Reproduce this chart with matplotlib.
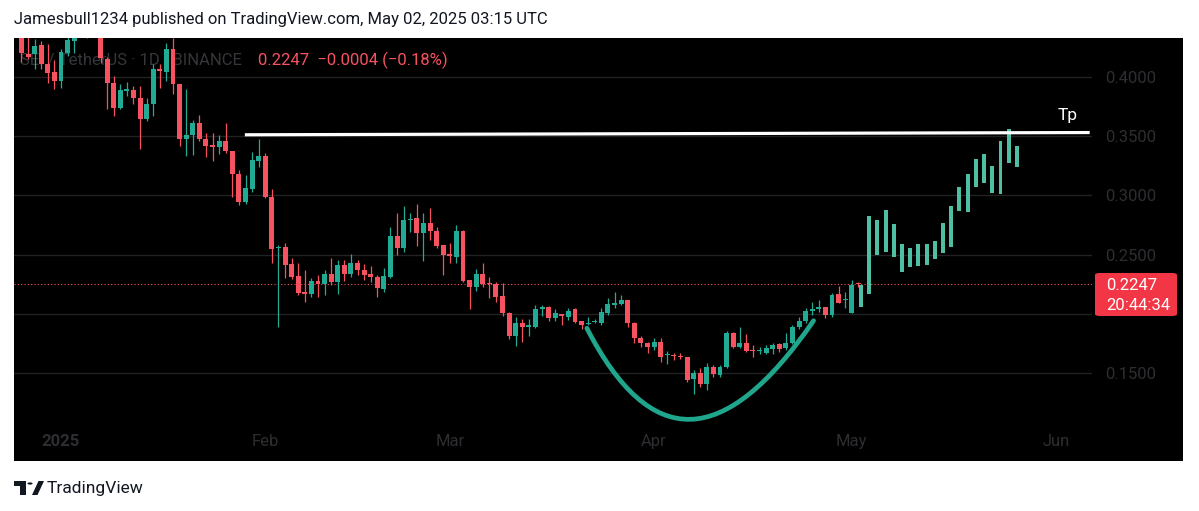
import numpy as np
import pandas as pd
import matplotlib
matplotlib.use("Agg")
import matplotlib.pyplot as plt
import matplotlib.dates as mdates
from matplotlib.path import Path
from matplotlib.patches import PathPatch, FancyBboxPatch, Rectangle, Circle, Polygon
from matplotlib.transforms import blended_transform_factory

plt.rcParams['font.family'] = ['Roboto', 'DejaVu Sans']

W, H = 1199, 511
TEAL = "#22ab94"
RED = "#f7525f"
PROJ = "#4fbfa3"
DIM = "#2e2e32"

# daily candles, starting 2024-12-26
first_day = "2024-12-26"
opens = [0.4450, 0.4192, 0.4192, 0.4268, 0.4107, 0.4042, 0.3966, 0.4205, 0.4304, 0.4480,
         0.4690, 0.4520, 0.4500, 0.4150, 0.3952, 0.3741, 0.3885, 0.3890, 0.3825, 0.3643,
         0.3769, 0.4065, 0.4042, 0.4239, 0.3938, 0.3479, 0.3510, 0.3609, 0.3474, 0.3425,
         0.3406, 0.3457, 0.3377, 0.3180, 0.2946, 0.3051, 0.3293, 0.3332, 0.2989, 0.2552,
         0.2566, 0.2420, 0.2318, 0.2186, 0.2166, 0.2279, 0.2251, 0.2335, 0.2270, 0.2411,
         0.2335, 0.2426, 0.2369, 0.2333, 0.2313, 0.2206, 0.2313, 0.2656, 0.2553, 0.2795,
         0.2806, 0.2679, 0.2764, 0.2701, 0.2580, 0.2504, 0.2482, 0.2701, 0.2285, 0.2228,
         0.2335, 0.2254, 0.2251, 0.2149, 0.2008, 0.1811, 0.1919, 0.1890, 0.1885, 0.2037,
         0.2059, 0.1961, 0.1997, 0.1970, 0.2037, 0.1941, 0.1913, 0.1932, 0.1924, 0.2008,
         0.2073, 0.2082, 0.2116, 0.1924, 0.1792, 0.1755, 0.1716, 0.1763, 0.1652, 0.1654,
         0.1644, 0.1631, 0.1445, 0.1496, 0.1406, 0.1552, 0.1483, 0.1547, 0.1834, 0.1721,
         0.1755, 0.1690, 0.1684, 0.1670, 0.1699, 0.1744, 0.1707, 0.1755, 0.1890, 0.1941,
         0.2025, 0.2037, 0.2054, 0.1989, 0.2164, 0.2116, 0.2003, 0.2251]
highs = [0.4560, 0.4380, 0.4319, 0.4304, 0.4276, 0.4144, 0.4234, 0.4370, 0.4550, 0.4760,
         0.4820, 0.4650, 0.4600, 0.4170, 0.4008, 0.3938, 0.3958, 0.3924, 0.3924, 0.3825,
         0.4107, 0.4107, 0.4290, 0.4332, 0.3945, 0.3896, 0.3637, 0.3679, 0.3524, 0.3524,
         0.3510, 0.3609, 0.3377, 0.3214, 0.3172, 0.3364, 0.3474, 0.3360, 0.3051, 0.2580,
         0.2594, 0.2468, 0.2426, 0.2369, 0.2299, 0.2327, 0.2369, 0.2468, 0.2454, 0.2454,
         0.2502, 0.2454, 0.2420, 0.2406, 0.2327, 0.2383, 0.2730, 0.2853, 0.2910, 0.2848,
         0.2927, 0.2848, 0.2890, 0.2735, 0.2580, 0.2595, 0.2749, 0.2707, 0.2285, 0.2375,
         0.2431, 0.2307, 0.2270, 0.2257, 0.2017, 0.1975, 0.1953, 0.1953, 0.2073, 0.2073,
         0.2065, 0.2037, 0.1997, 0.2045, 0.2045, 0.1941, 0.1970, 0.1953, 0.2045, 0.2130,
         0.2186, 0.2158, 0.2116, 0.1932, 0.1811, 0.1763, 0.1792, 0.1792, 0.1687, 0.1670,
         0.1665, 0.1637, 0.1524, 0.1539, 0.1586, 0.1566, 0.1566, 0.1856, 0.1848, 0.1885,
         0.1828, 0.1735, 0.1721, 0.1735, 0.1750, 0.1755, 0.1834, 0.1904, 0.1975, 0.2045,
         0.2101, 0.2116, 0.2059, 0.2172, 0.2234, 0.2186, 0.2285, 0.2270]
lows = [0.4127, 0.4150, 0.4070, 0.4068, 0.3952, 0.3901, 0.3910, 0.4180, 0.4205, 0.4420,
        0.4330, 0.4380, 0.4120, 0.3727, 0.3670, 0.3727, 0.3839, 0.3769, 0.3389, 0.3628,
        0.3670, 0.3910, 0.3966, 0.3854, 0.3417, 0.3332, 0.3341, 0.3460, 0.3321, 0.3293,
        0.3349, 0.3360, 0.2983, 0.2918, 0.2927, 0.3031, 0.3242, 0.2975, 0.2431, 0.1885,
        0.2299, 0.2291, 0.2158, 0.2101, 0.2144, 0.2144, 0.2158, 0.2243, 0.2166, 0.2279,
        0.2313, 0.2327, 0.2285, 0.2270, 0.2139, 0.2186, 0.2299, 0.2496, 0.2524, 0.2693,
        0.2572, 0.2448, 0.2623, 0.2553, 0.2327, 0.2431, 0.2426, 0.2270, 0.2037, 0.2194,
        0.2223, 0.2130, 0.2101, 0.1980, 0.1784, 0.1727, 0.1763, 0.1811, 0.1876, 0.1980,
        0.1941, 0.1941, 0.1904, 0.1947, 0.1919, 0.1868, 0.1904, 0.1919, 0.1904, 0.1989,
        0.2045, 0.2073, 0.1890, 0.1755, 0.1716, 0.1670, 0.1693, 0.1594, 0.1575, 0.1609,
        0.1616, 0.1425, 0.1320, 0.1383, 0.1355, 0.1462, 0.1468, 0.1538, 0.1707, 0.1707,
        0.1679, 0.1637, 0.1659, 0.1659, 0.1659, 0.1679, 0.1693, 0.1744, 0.1868, 0.1919,
        0.1989, 0.2017, 0.1961, 0.1970, 0.2087, 0.2045, 0.2003, 0.2228]
closes = [0.4205, 0.4172, 0.4262, 0.4107, 0.4036, 0.3966, 0.4211, 0.4313, 0.4480, 0.4690,
          0.4520, 0.4500, 0.4163, 0.3952, 0.3741, 0.3890, 0.3895, 0.3825, 0.3643, 0.3769,
          0.4065, 0.4051, 0.4234, 0.3938, 0.3474, 0.3510, 0.3609, 0.3474, 0.3417, 0.3411,
          0.3457, 0.3377, 0.3180, 0.2946, 0.3060, 0.3299, 0.3332, 0.2983, 0.2544, 0.2566,
          0.2411, 0.2313, 0.2172, 0.2166, 0.2279, 0.2251, 0.2335, 0.2270, 0.2411, 0.2335,
          0.2426, 0.2369, 0.2327, 0.2308, 0.2215, 0.2318, 0.2656, 0.2553, 0.2792, 0.2801,
          0.2679, 0.2769, 0.2701, 0.2572, 0.2496, 0.2487, 0.2701, 0.2279, 0.2228, 0.2335,
          0.2251, 0.2248, 0.2139, 0.2008, 0.1811, 0.1919, 0.1885, 0.1904, 0.2037, 0.2054,
          0.1961, 0.2003, 0.1980, 0.2025, 0.1932, 0.1904, 0.1924, 0.1941, 0.2017, 0.2082,
          0.2087, 0.2116, 0.1924, 0.1792, 0.1750, 0.1721, 0.1763, 0.1637, 0.1661, 0.1646,
          0.1636, 0.1440, 0.1496, 0.1406, 0.1552, 0.1490, 0.1547, 0.1834, 0.1721, 0.1755,
          0.1687, 0.1684, 0.1693, 0.1707, 0.1735, 0.1699, 0.1755, 0.1890, 0.1941, 0.2025,
          0.2037, 0.2054, 0.1989, 0.2158, 0.2093, 0.2124, 0.2243, 0.2247]

# projected bars pattern (low / high of each bar)
proj_lows = [0.2059, 0.2167, 0.2499, 0.2524, 0.2482, 0.2355, 0.2392, 0.2406, 0.2414, 0.2465,
             0.2510, 0.2561, 0.2868, 0.2859, 0.3068, 0.3107, 0.3022, 0.3011, 0.3271, 0.3237]
proj_highs = [0.2243, 0.2826, 0.2792, 0.2876, 0.2755, 0.2589, 0.2555, 0.2589, 0.2589, 0.2612,
              0.2769, 0.2910, 0.3073, 0.3180, 0.3310, 0.3347, 0.3251, 0.3462, 0.3558, 0.3420]
proj_start_day = 121.4   # days after Jan 1
proj_step = 1.245

# target line and cup drawing, days after Jan 1
tp_days = [27.9, 156.1]
tp_prices = [0.3512, 0.3531]
cup_days = [79.8, 89.4, 100.6, 114.2]
cup_prices = [0.1877, 0.0840, 0.0840, 0.1941]

last_price = 0.2247
change = -0.0004
change_pct = -0.18
countdown = "20:44:34"
price_ticks = [0.15, 0.20, 0.25, 0.30, 0.35, 0.40]
month_labels = ["2025", "Feb", "Mar", "Apr", "May", "Jun"]
month_starts = ["2025-01-01", "2025-02-01", "2025-03-01", "2025-04-01", "2025-05-01", "2025-06-01"]


def fx(px):
    return px / W


def fy(py):
    return 1 - py / H


fig = plt.figure(figsize=(W / 100, H / 100), dpi=100, facecolor="white")

# black chart panel incl. price scale
bg = fig.add_axes([fx(14), fy(461), fx(1183 - 14), (461 - 38) / H])
bg.set_facecolor("black")
bg.set_xticks([])
bg.set_yticks([])
for s in bg.spines.values():
    s.set_visible(False)

ax = fig.add_axes([fx(14), fy(461), fx(1092 - 14), (461 - 38) / H])
ax.set_facecolor("black")
ax.patch.set_alpha(0)
for s in ax.spines.values():
    s.set_visible(False)

jan1 = mdates.date2num(pd.Timestamp("2025-01-01"))
ax.set_xlim(jan1 - 7.13, jan1 + 156.45)
ax.set_ylim(0.0755, 0.4330)

ax.set_axisbelow(True)
ax.yaxis.tick_right()
ax.set_yticks(price_ticks)
# the 0.2000 label sits under the last-price tag
ax.set_yticklabels(["" if abs(v - 0.20) < 1e-9 else f"{v:.4f}" for v in price_ticks])
ax.tick_params(axis="y", length=0, pad=9.5, labelsize=12, labelcolor=DIM)
ax.yaxis.grid(True, color="#222224", lw=1.0)
ax.set_xticks([])

# month labels inside the panel
tr = blended_transform_factory(ax.transData, ax.transAxes)
for lab, d in zip(month_labels, month_starts):
    ax.text(mdates.date2num(pd.Timestamp(d)), 20 / 423, lab, transform=tr,
            ha="center", va="center", fontsize=12, color=DIM,
            fontweight="bold" if lab == "2025" else "normal")

# symbol legend behind the candles
ax.text(fx(20), fy(60), "SEI / TetherUS · 1D · BINANCE", transform=fig.transFigure,
        fontsize=12, color="#36363a", va="center", ha="left", zorder=1)
ax.text(fx(258), fy(60), f"{last_price:.4f}  \u2212{abs(change):.4f} (\u2212{abs(change_pct):.2f}%)",
        transform=fig.transFigure, fontsize=12, color=RED, va="center", ha="left", zorder=1)

# candles
dates = pd.date_range(first_day, periods=len(opens), freq="D")
xs = mdates.date2num(dates)
o, h, l, c = (np.array(v) for v in (opens, highs, lows, closes))
cols = np.where(c >= o, TEAL, RED)
ax.vlines(xs, l, h, colors=cols, lw=0.9, zorder=3)
body_lo = np.minimum(o, c)
body_h = np.maximum(np.abs(c - o), 0.0009)
ax.bar(xs, body_h, bottom=body_lo, width=0.75, color=cols, linewidth=0, zorder=4)

# projected bars
px = jan1 + proj_start_day + proj_step * np.arange(len(proj_lows))
pl, ph = np.array(proj_lows), np.array(proj_highs)
ax.bar(px, ph - pl, bottom=pl, width=0.6, color=PROJ, linewidth=0, zorder=4)

# last price dotted line
ax.axhline(last_price, color=RED, lw=0.8, ls=(0, (1, 2)), zorder=2)

# target line
ax.plot(jan1 + np.array(tp_days), tp_prices, color="white", lw=2.3, zorder=5,
        solid_capstyle="butt")
ax.text(jan1 + 152.7, 0.3675, "Tp", color="white", fontsize=12.5, ha="center",
        va="center", zorder=5)

# rounding bottom drawing
verts = list(zip(jan1 + np.array(cup_days), cup_prices))
cup = Path(verts, [Path.MOVETO, Path.CURVE4, Path.CURVE4, Path.CURVE4])
ax.add_patch(PathPatch(cup, facecolor="none", edgecolor="#1fa68c", lw=3.4,
                       capstyle="round", zorder=6))

# last price tag on the scale (drawn in the axes so it sits above the tick labels)
tag = FancyBboxPatch((fx(1095), fy(316)), fx(1177 - 1095), (316 - 273) / H,
                     boxstyle="round,pad=0,rounding_size=0.004",
                     transform=fig.transFigure, facecolor="#f23645", edgecolor="none",
                     zorder=10, clip_on=False)
ax.add_artist(tag)
ax.text(fx(1106), fy(285), f"{last_price:.4f}", transform=fig.transFigure, color="white",
        fontsize=12, ha="left", va="center", zorder=11, clip_on=False)
ax.text(fx(1106), fy(305), countdown, transform=fig.transFigure, color="white",
        fontsize=12, ha="left", va="center", zorder=11, clip_on=False)

# header and footer
fig.text(fx(14), fy(19), "Jamesbull1234 published on TradingView.com, May 02, 2025 03:15 UTC",
         fontsize=12, color="#131722", ha="left", va="center")

logo = [
    Rectangle((fx(14), fy(486)), fx(12), 5 / H),
    Rectangle((fx(20), fy(495)), fx(6), 14 / H),
    Circle((fx(30), fy(483.5)), 2.6 / W),
    Polygon([(fx(32), fy(495)), (fx(37.5), fy(495)), (fx(44), fy(481)), (fx(38.5), fy(481))]),
]
for p in logo:
    p.set_transform(fig.transFigure)
    p.set_facecolor("#131722")
    p.set_edgecolor("none")
    fig.patches.append(p)
fig.text(fx(47), fy(488), "TradingView", fontsize=12.5, color="#131722",
         ha="left", va="center")

fig.savefig("out.png", dpi=100, facecolor="white")
